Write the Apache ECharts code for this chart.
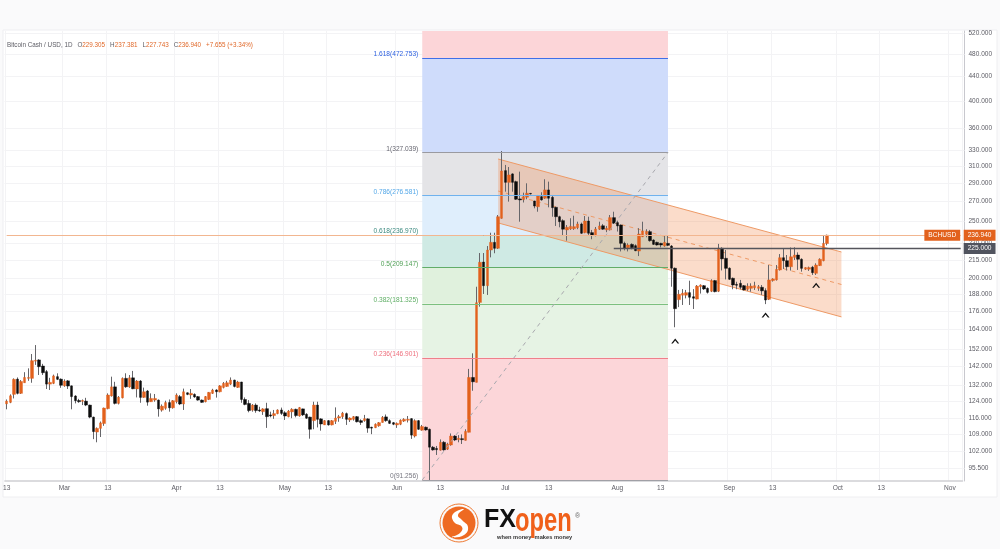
<!DOCTYPE html>
<html><head><meta charset="utf-8">
<style>html,body{margin:0;padding:0;background:#fafafb}#c{width:1000px;height:549px}</style>
<script src="https://cdn.jsdelivr.net/npm/echarts@6/dist/echarts.min.js"></script>
</head><body><div id="c"></div>
<script>
const opens=[
122.8,123.5,127.4,135.2,127.9,133.3,135.6,135.6,145,145.7,
142.3,139.2,132.6,133,136.5,135.2,131.7,134.3,131.7,126.6,
124.4,124,124.1,122.2,116.6,110,111.6,113.7,120.5,126.6,
131.2,123,125.7,135.6,131.1,135.9,130.1,134.2,125.9,129.1,
123.8,124.6,124.6,119.8,120.7,123.4,120.9,123.8,126.3,122.7,
128.2,127.1,127.4,126.3,124.6,123.8,124.9,127.9,129.6,128.7,
130.9,131.4,132.6,134.7,130.9,133.7,124.9,123,119.8,122.2,
119.9,119.1,120.5,117.6,117.3,118.2,119.9,118.6,116.8,119,
120.2,117.1,120.4,117.9,116.6,115,122.2,115.8,113.1,115,
113.1,114.7,116.2,116.8,118.2,115.3,115.6,116.8,115,115,
115.8,112.1,111.9,112.7,114.2,116.7,115,114.1,113.1,113.4,
114.8,115.2,115.9,108.3,115,110.8,112.1,111.2,103.7,103.2,
102.5,105.7,102.9,104.6,108.3,106.8,107.2,106.5,109.9,136.1,
133.5,182.3,213.4,194.6,223.6,230.4,225.1,253,304.7,291.1,
300.8,291.9,272.9,272.1,274.7,278.8,270.7,264.7,275.3,273.6,
282.6,274.6,264.1,254.6,250.7,241.8,242.7,243,243.9,247.5,
239.3,250.4,239.3,236.5,242.5,245.8,241.8,241.8,253.7,248.8,
246.5,229.5,225.6,228.6,227.4,222.7,235.5,237.8,240.2,232.5,
230.4,229.5,227.1,229.5,227.1,208.3,184.3,187.5,187.5,189.4,
186.4,184.7,193.8,194.6,192.6,190.4,198.5,190.4,225.1,216.5,
208.3,200.3,195.6,196.4,194.6,191.9,192.6,193,192.6,193.4,
190.9,184.5,198.5,199,206.9,217,214.5,209.5,217.3,219.3,
215.7,207.5,207.5,209.1,204.2,210.4,214.5,229.305];
const closes=[
124.1,126.7,135.1,127.9,134,136.1,136.1,145.3,145.5,141.9,
138.6,132.6,133.5,136.9,135.1,132,134.2,131.6,126.3,124.3,
123.8,124.4,122.2,116.6,110.2,111.6,114,120.8,127.1,131.2,
123,126,135.6,131.2,135.9,130.2,134.2,125.9,128.7,123.6,
125.4,125.4,120.4,121.7,123.4,120.9,124.3,127.1,122.7,128.7,
127.4,127.9,126.1,124.6,123.5,126.3,128.4,129.6,128.7,131.7,
133,133.3,134.7,131.4,133.7,124.9,122.5,119.6,122.2,119.6,
119.4,120.4,116.8,117.1,118.2,119.9,118.3,117.1,119.4,120.2,
117.3,121,117.6,116.1,111.2,122.2,115.6,113.5,115,113.1,
115,116.2,116.8,118.4,115.6,116.2,116.8,114.5,114.2,115.9,
111.7,111.7,113.4,114.1,116.5,115,113.8,113.4,113.8,115.2,
115.6,115.6,108.7,115,111.2,112.4,110.9,103.7,102.6,102.7,
105.7,102.6,105,108.3,106.65,107.4,106.8,110.3,136.1,133.8,
182.1,213.2,194.6,223.6,230.4,225.1,254.6,304.3,291.1,299.6,
291.1,272.5,271.8,275.3,279,278.2,265.4,276,271.8,282.6,
273.6,263.7,254.6,249.7,242.5,244.3,245.2,244.9,247.5,238.7,
250.4,238.7,237.1,242.7,245.6,242.5,243.4,253.7,248.2,245.6,
229.5,225.1,228,225.6,223,238,240.9,240.2,231.9,228.6,
228,228,230.4,227.7,208.3,177.9,188.2,189,189.4,186,
185.3,194.3,195.1,192.1,189.6,198.5,190.1,225.1,216,208.2,
199.5,195.1,194.9,193.4,191.4,194.3,194.3,194.6,193.8,190.7,
184,199,199.8,207.4,217,214.5,209.5,217.8,219.3,215.7,
208.2,208.8,208.8,204.7,210.9,215.7,229.5,236.94];
const highs=[
124.9,127.4,135.6,136.1,134.7,138.9,141,149.1,154.4,146.1,
143.5,140.1,135.9,137.6,138.3,135.6,135.1,134.7,131.9,127,
125.2,124.9,125.7,122.4,116.8,112,114.6,121,127.9,136.5,
133.8,126.6,136.1,138.3,137.4,139.6,134.7,134.7,130.8,129.6,
127.9,127.6,124.9,122.5,124.3,124.9,124.6,127.9,127.1,130.3,
128.4,130.1,127.9,126.6,124.9,126.6,128.6,130.2,130,132.1,
133.7,134.3,136.1,134.9,134.3,133.8,125.9,124.6,122.7,123,
121.4,120.7,123.3,119.1,119.9,120.2,121,119.3,119.9,120.7,
120.5,121.3,120.5,118.4,116.8,123.8,123.8,116.1,115.3,115.3,
115.3,121.1,117.6,119,118.7,116.5,117.1,117.1,115.6,117.6,
116.1,112.3,113.8,114.4,117.1,117.8,115.6,114.4,114.2,115.6,
116.1,117.1,116.1,115.6,115.3,113.1,112.4,111.5,104.2,104.2,
106.9,106.2,105.5,109.4,108.7,108.7,109,111.2,140.7,149.5,
193.8,221,221,227.1,239.2,239.2,256.3,328.9,311.5,309,
301.6,293,303.5,279.6,290,279.3,271,277.1,280,294.6,
291.9,277.1,264.7,255.6,252.1,246.5,253.1,255.6,249.7,248.8,
255.3,254.6,241.8,244.6,249.7,247.5,245.6,256.3,259.6,250.7,
247.1,231,229.5,229.5,228.6,243.5,249.7,242.5,241.8,233.2,
231,230,236.4,236.2,228,208.9,191.4,192,191.4,198.4,
192,195.1,195.6,195.1,193.3,199.5,199,229,226,223.6,
209,200.9,197.6,199,195.1,196.4,196.4,197.6,195.1,195.1,
192.6,210.9,200.3,210.9,220.1,224.6,219.3,225.8,226,221.6,
216.5,209.1,209.6,210.2,212.3,216.5,237.1,237.381];
const lows=[
120.2,123.1,125.4,127.4,127.6,133.3,134.3,133.3,142.9,137.4,
137.4,130.1,129.6,132.6,134.7,130.7,131.2,130.1,120.2,123,
123.3,122.2,121.7,116.1,107,105.7,107.9,112.7,120.2,126.3,
122.5,122.5,125.4,130.7,130.7,130,125.9,123.3,125.7,121.9,
123.8,123.8,116.8,119.1,120,119.1,120.5,123,122.2,119.9,
127,125.2,125.7,124.3,123.3,123.5,124.6,127.6,125.8,128.4,
130.4,131.2,132.1,130.9,130.6,123.3,122.1,118.8,119.1,118.6,
119,117.6,111.8,116.5,115.8,117.9,117.6,115.3,116.5,116.1,
116.5,116.8,117.1,115.8,107.2,111.2,112,110.6,113.1,112.8,
112.9,113.5,114.5,115.8,113.1,114.4,115,114.2,113.1,114.5,
109.7,109.1,111.7,112.3,114.1,114.5,113.5,113,111.8,113,
114.4,114.2,107.1,107.7,110.9,110.6,110.6,91.26,102.3,100.6,
102.3,102.3,102.6,104.3,106.2,105.7,105,106.4,109.9,129.2,
133.5,179.3,188.4,187.7,217.3,220.8,224.5,252.6,280.7,270,
280.7,271.8,249.7,269.1,272.5,277.6,263.1,259.6,271,272.9,
264.1,254.6,245.6,244.3,236.2,231.9,241.8,241.8,242.5,238,
238.7,237.1,233.2,235.9,241.8,241.8,239.7,241.2,247.5,240.3,
222.4,223.3,222.4,224.2,222.6,218.4,235.2,235,231,228,
227.4,225.9,226.5,227.1,193.8,165.5,179,180.5,185.2,180.5,
177.7,184.5,188.7,191.4,188.7,189.8,189.6,189.8,206.5,199.4,
199,191.9,191.9,191.9,190.9,190.7,190.1,191.4,190.7,187.7,
181.1,184,197.7,198.5,206.4,207.7,206.4,206.4,215.1,206.9,
205.5,206.9,206.1,202.9,202.9,210.1,214,227.743];
const titleName='Bitcoin Cash / USD, 1D';
const titleValues=[['O','229.305'],['H','237.381'],['L','227.743'],['C','236.940']];
const titleChange='+7.655 (+3.34%)';
const yTicks=[95.5,102,109,116,124,132,142,152,164,176,188,200,215,230,250,270,290,310,330,360,400,440,480,520];
const fibRatios=['1.618','1','0.786','0.618','0.5','0.382','0.236','0'];
const fibPrices=[472.753,327.039,276.581,236.970,209.147,181.325,146.901,91.256];
const fibLineColors=['#3f6fe8','#9a9aa0','#6fb2ee','#4f9187','#62ad68','#7cc07f','#ef7f8a','#a0a0a6'];
const fibLabelColors=['#2f62e0','#666670','#55a8e8','#3c8a80','#4f9f55','#5fae65','#ee6f7d','#777780'];
const fibBandColors=['#fcd5d8','#cfdcfb','#e4e4e7','#dfeefc','#cfeae4','#e0f1dd','#e6f3e4','#fcd6d9'];
const axisMin=90.9, axisMax=525;
const fibStartIdx=115, fibEndIdx=183;
const channelX=[136,231];
const channelTop=[318.8,221.9];
const channelMid=[281.4,195.5];
const channelBottom=[248.5,172.3];
const lastPrice=236.94, levelPrice=225, levelStartIdx=168;
const carets=[[185,156.9],[210,173.6],[224,194.9]];
const startDate='2023-02-13', dayCount=265;
const monthNames=['Jan','Feb','Mar','Apr','May','Jun','Jul','Aug','Sep','Oct','Nov','Dec'];
const categories=[];
{const t0=Date.parse(startDate+'T00:00:00Z');for(let i=0;i<dayCount;i++){categories.push(new Date(t0+i*864e5).toISOString().slice(0,10));}}
const dayOf=s=>+s.slice(8,10), monthOf=s=>+s.slice(5,7)-1;
const isMark=(i,v)=>{const d=dayOf(v);return d===1||d===13;};
const wickData=opens.map((o,i)=>[o,closes[i],lows[i],highs[i]]);
const bodyData=opens.map((o,i)=>[o,closes[i],Math.min(o,closes[i]),Math.max(o,closes[i])]);
const ORANGE='#e2611c', TXT='#5c5c64', FF='"Liberation Sans",Arial,sans-serif';
const bandEdges=[axisMax].concat(fibPrices.slice(0,7),[axisMin]);
const bandData=fibBandColors.map((c,i)=>[
  {coord:[categories[fibStartIdx],bandEdges[i]],itemStyle:{color:c,opacity:1}},
  {coord:[categories[fibEndIdx],bandEdges[i+1]]}]);
const fibLines=fibPrices.map((p,i)=>[
  {coord:[categories[fibStartIdx],p],lineStyle:{color:fibLineColors[i],width:1,type:'solid',opacity:1},
   label:{show:true,position:'start',distance:4,verticalAlign:'bottom',color:fibLabelColors[i],fontSize:6.6,fontFamily:FF,
     formatter:fibRatios[i]+'('+p.toFixed(3)+')'}},
  {coord:[categories[fibEndIdx],p]}]);
const title=['{a|'+titleName+'}'].concat(titleValues.map(v=>'{a|'+v[0]+'}{b|'+v[1]+'}'),['{b|'+titleChange+'}']).join(' ');
const option={
  animation:false,
  backgroundColor:'#fafafb',
  title:{text:title,left:7,top:36,padding:0,textStyle:{fontWeight:'normal',rich:{a:{color:TXT,fontSize:6.3,fontFamily:FF,fontWeight:'normal'},b:{color:'#e0692a',fontSize:6.3,fontFamily:FF,fontWeight:'normal'}}}},
  grid:{left:4,top:31,width:958.5,height:450,containLabel:false},
  xAxis:{type:'category',data:categories,boundaryGap:true,
    axisLine:{show:true,lineStyle:{color:'#cfcfd4',width:1.5}},axisTick:{show:false},
    axisLabel:{interval:isMark,color:TXT,fontSize:6.6,fontFamily:FF,margin:4,hideOverlap:false,
      formatter:v=>dayOf(v)===1?monthNames[monthOf(v)]:'13'},
    splitLine:{show:true,interval:isMark,lineStyle:{color:'#f3f3f5',width:1}}},
  yAxis:{type:'log',position:'right',offset:2,min:axisMin,max:axisMax,
    axisLine:{show:true,lineStyle:{color:'#c8c8ce',width:1}},
    axisTick:{show:true,inside:true,length:960,customValues:yTicks,lineStyle:{color:'#f3f3f5',width:1}},
    axisLabel:{customValues:yTicks,color:TXT,fontSize:6.5,fontFamily:FF,margin:4,
      formatter:v=>(+v).toFixed(3)},
    splitLine:{show:false}},
  graphic:[
    {type:'rect',z:-5,silent:true,shape:{x:3,y:30,width:994,height:467},style:{fill:'#fff',stroke:'#eeeef1',lineWidth:1}},
    {type:'group',silent:true,children:[
      {type:'circle',shape:{cx:459,cy:523,r:19},style:{fill:'none',stroke:'#ee7a33',lineWidth:1}},
      {type:'circle',shape:{cx:459,cy:523,r:16.5},style:{fill:'#ee6a22'}},
      {type:'polygon',shape:{smooth:.5,points:[[464,509],[453,514],[454,522],[462,527],[460,533],[452,537],[464,535],[468,527],[462,520],[458,515]]},style:{fill:'#fff'},z:2},
      {type:'text',z:2,style:{text:'FX',x:484,y:533,font:'bold 25px '+FF,fill:'#111',textVerticalAlign:'bottom'}},
      {type:'text',z:2,originX:515,originY:532,scaleX:.72,style:{text:'open',x:515,y:538,font:'bold 33px '+FF,fill:'#f0601a',textVerticalAlign:'bottom'}},
      {type:'text',z:2,style:{text:'®',x:575,y:513,font:'7px '+FF,fill:'#666'}},
      {type:'text',z:2,style:{text:'when money  makes money',x:497,y:534,font:'bold 5.7px '+FF,fill:'#333'}}
    ]}
  ],
  series:[
    {name:'fib',type:'line',data:[],z:1,silent:true,symbol:'none',
      markArea:{silent:true,z:1,data:bandData}},
    {name:'channel',type:'custom',z:2,silent:true,clip:false,data:[0],
      renderItem:function(p,api){
        const pt=(k,v)=>api.coord([channelX[k],v]);
        const a=pt(0,channelTop[0]),b=pt(1,channelTop[1]),c=pt(1,channelBottom[1]),d=pt(0,channelBottom[0]);
        const m0=pt(0,channelMid[0]),m1=pt(1,channelMid[1]);
        const ln={stroke:'#ee9a66',lineWidth:1,fill:null};
        return {type:'group',children:[
          {type:'polygon',shape:{points:[a,b,c,d]},style:{fill:'rgba(240,125,60,.27)',stroke:null}},
          {type:'polyline',shape:{points:[a,b]},style:ln},
          {type:'polyline',shape:{points:[d,c]},style:ln},
          {type:'polyline',shape:{points:[m0,m1]},style:{stroke:'#ee9a66',lineWidth:1,fill:null,lineDash:[4,4]}}
        ]};
      }},
    {name:'wicks',type:'candlestick',data:wickData,z:3,barWidth:1,silent:true,
      itemStyle:{color:'#66666a',color0:'#66666a',borderColor:'#66666a',borderColor0:'#66666a',borderWidth:1}},
    {name:'BCHUSD',type:'candlestick',data:bodyData,z:4,barWidth:3,silent:true,
      itemStyle:{color:ORANGE,color0:'#0b0b0b',borderColor:ORANGE,borderColor0:'#0b0b0b',borderWidth:.4}},
    {name:'levels',type:'line',data:[],z:5,silent:true,symbol:'none',
      markLine:{silent:true,symbol:['none','none'],z:5,animation:false,data:fibLines.concat([
        [{coord:[categories[fibStartIdx],fibPrices[7]],lineStyle:{color:'#a8a8ae',width:1,type:[4,4]},label:{show:false}},
         {coord:[categories[fibEndIdx],fibPrices[1]]}],
        [{coord:[categories[0],lastPrice],lineStyle:{color:'#f2b690',width:1,type:'solid'},
          label:{show:true,position:'end',distance:3,color:'#fff',fontSize:6.6,fontFamily:FF,backgroundColor:ORANGE,padding:[2,4,2,4],formatter:lastPrice.toFixed(3)}},
         {coord:[categories[dayCount-1],lastPrice]}],
        [{coord:[categories[levelStartIdx],levelPrice],lineStyle:{color:'#55555c',width:1.3,type:'solid'},
          label:{show:true,position:'end',distance:3,color:'#fff',fontSize:6.6,fontFamily:FF,backgroundColor:'#50535e',padding:[2,4,2,4],formatter:levelPrice.toFixed(3)}},
         {coord:[categories[dayCount-1],levelPrice]}]
      ])},
      markPoint:{silent:true,symbol:'rect',symbolSize:1,itemStyle:{color:'rgba(0,0,0,0)'},data:[
        {coord:[categories[dayCount-1],lastPrice],label:{show:true,position:'left',distance:0,color:'#fff',fontSize:6.6,fontFamily:FF,backgroundColor:ORANGE,padding:[2,4,2,4],formatter:'BCHUSD'}}
      ]}},
    {name:'marks',type:'scatter',z:6,silent:true,data:carets,
      symbol:'path://M0 10 L5 0 L10 10 L8 10 L5 4 L2 10 Z',symbolSize:[8,5],itemStyle:{color:'#111',opacity:1}}
  ]
};
const chart=echarts.init(document.getElementById('c'),null,{renderer:'canvas'});
chart.setOption(option);
</script>
</body></html>
